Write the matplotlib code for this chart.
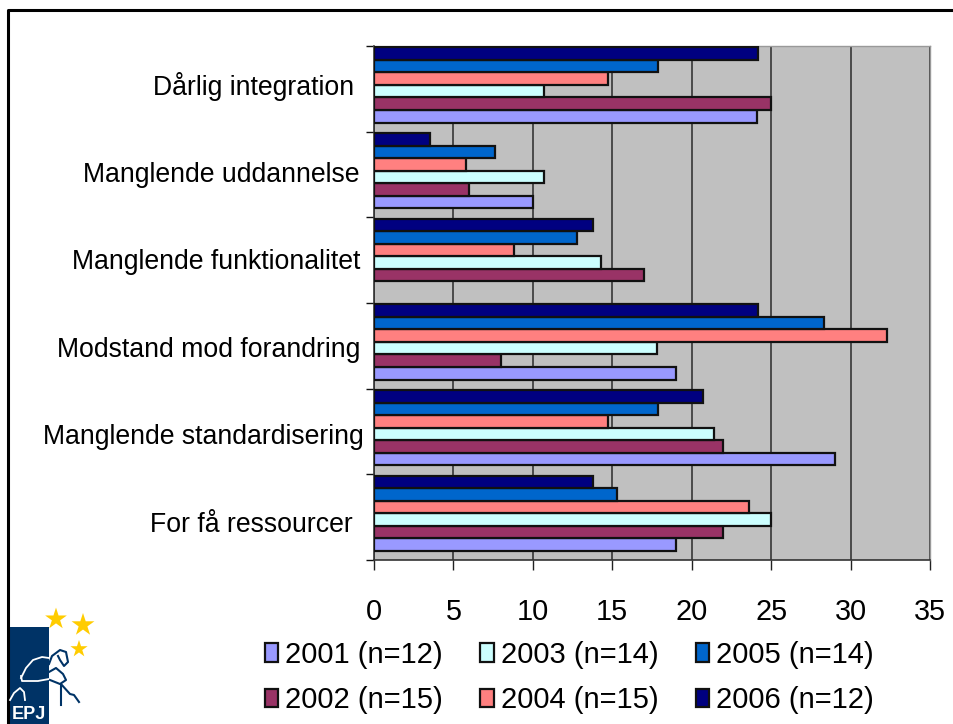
import matplotlib
matplotlib.use("Agg")
import matplotlib.pyplot as plt
import numpy as np
from matplotlib.patches import Rectangle
from matplotlib.transforms import ScaledTranslation

plt.rcParams['font.family'] = ['Liberation Sans', 'DejaVu Sans']

categories = ["Dårlig integration", "Manglende uddannelse", "Manglende funktionalitet",
              "Modstand mod forandring", "Manglende standardisering", "For få ressourcer"]
series_labels = ["2001 (n=12)", "2002 (n=15)", "2003 (n=14)", "2004 (n=15)", "2005 (n=14)", "2006 (n=12)"]
colors = ["#9999FF", "#993366", "#CCFFFF", "#FF8080", "#0066CC", "#000080"]
v2001 = [24.1, 10.0, 0.0, 19.0, 29.0, 19.0]
v2002 = [25.0, 6.0, 17.0, 8.0, 22.0, 22.0]
v2003 = [10.7, 10.7, 14.3, 17.8, 21.4, 25.0]
v2004 = [14.7, 5.8, 8.8, 32.3, 14.7, 23.6]
v2005 = [17.9, 7.6, 12.8, 28.3, 17.9, 15.3]
v2006 = [24.2, 3.5, 13.8, 24.2, 20.7, 13.8]
series = [v2001, v2002, v2003, v2004, v2005, v2006]
label_dx_px = [-6, -1, 0, 0, 4, -7]
label_dy_px = [5, 3, 1, -1, -2, -5]

W, H = 954, 724
fig = plt.figure(figsize=(W/100, H/100), dpi=100, facecolor="white")
ax = fig.add_axes([374/W, 1-560/H, (930-374)/W, (560-46)/H])
ax.set_facecolor("#C0C0C0")

n = len(categories)
y = np.arange(n)
bar_h = 0.146
group_shift = -0.045
for i, (vals, c, lab) in enumerate(zip(series, colors, series_labels)):
    pos = y + group_shift + (2.5 - i) * bar_h
    keep = [v > 0 for v in vals]
    ax.barh(pos[keep], np.array(vals)[keep], height=bar_h, color=c, edgecolor="#111111",
            linewidth=1.6, zorder=3, label=lab)

ax.set_xlim(0, 35)
ax.set_ylim(n - 0.5, -0.5)
ax.set_xticks(range(0, 36, 5))
ax.xaxis.grid(True, color="#2a2a2a", linewidth=1.1, zorder=1)
ax.set_axisbelow(True)
ax.tick_params(axis="x", length=7.5, width=1, color="#222222", labelsize=20.8, pad=20, labelcolor="black")
ax.set_yticks(np.arange(n + 1) - 0.5)
ax.set_yticklabels([])
ax.tick_params(axis="y", which="major", length=6, width=1, color="#111111")
ax.set_yticks(y, minor=True)
ax.set_yticklabels(categories, minor=True, fontsize=19.2, color="black")
ax.tick_params(axis="y", which="minor", length=0, pad=10)
for t, dx, dy in zip(ax.yaxis.get_minorticklabels(), label_dx_px, label_dy_px):
    t.set_transform(t.get_transform() + ScaledTranslation(dx/100, dy/100, fig.dpi_scale_trans))
for s in ["left", "bottom"]:
    ax.spines[s].set_color("#333333")
    ax.spines[s].set_linewidth(1.2)
for s in ["top", "right"]:
    ax.spines[s].set_color("#999999")
    ax.spines[s].set_linewidth(1.0)

handles, labels = ax.get_legend_handles_labels()
fig.legend(handles, labels, loc="upper left", bbox_to_anchor=(256/W, 1-632/H), ncols=3, frameon=False,
           fontsize=21, handlelength=0.46, handleheight=0.6, handletextpad=0.24,
           columnspacing=1.28, labelspacing=0.6, borderpad=0.3, borderaxespad=0)

# Overlay in image pixel coordinates: slide border and EPJ logo
ov = fig.add_axes([0, 0, 1, 1], zorder=5)
ov.set_xlim(0, W); ov.set_ylim(H, 0); ov.axis("off"); ov.patch.set_alpha(0)
ov.plot([8, 8, W], [H, 10, 10], color="black", lw=2.2, solid_joinstyle="round")
navy = "#003366"
ov.add_patch(Rectangle((9.5, 627), 40, 97, color=navy, lw=0))
ov.scatter([56, 83, 79], [619, 625, 649], marker="*", s=[270, 300, 170], color="#FFCC00", linewidths=0)
ov.text(29, 719, "EPJ", color="white", fontsize=13, fontweight="bold", ha="center", va="baseline")
ov.plot([21, 26, 33, 42, 49], [678, 668, 660, 657, 658], color="white", lw=1.3)
ov.plot([21, 22, 38, 49], [676, 681, 681, 679], color="white", lw=1.3)
ov.plot([10, 14, 20, 24, 25], [700, 693, 688, 692, 700], color="white", lw=1.3)
ov.plot([49, 52, 60, 66, 68, 64, 60, 58], [664, 656, 650, 652, 662, 666, 660, 656], color=navy, lw=1.5)
ov.plot([49, 56, 63, 66, 60, 50], [672, 668, 674, 680, 684, 680], color=navy, lw=1.5)
ov.plot([61, 61, 70, 74, 79], [705, 684, 694, 695, 702], color=navy, lw=1.5)

fig.savefig("out.png", dpi=100, facecolor="white")
